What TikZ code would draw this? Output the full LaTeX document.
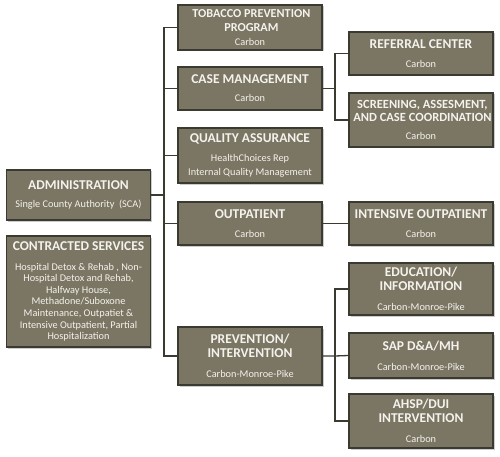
\documentclass[tikz,border=0pt]{standalone}
\usepackage{fontspec}
\setmainfont{Carlito}
\usetikzlibrary{shadows}
\definecolor{boxfill}{HTML}{7B7563}
\definecolor{boxline}{HTML}{3B3A31}
\definecolor{boxtext}{HTML}{F4F2EC}
\newcommand{\sm}{\fontsize{10.3}{11.6}\selectfont\mdseries}
\newcommand{\hd}[1][13.5]{\fontsize{#1}{11.6}\selectfont\bfseries}
\begin{document}
\begin{tikzpicture}[x=1pt,y=-1pt,
        unit/.style={draw=boxline,fill=boxfill,line width=1.3pt,text=boxtext,align=center,inner sep=0pt,
            minimum width=144pt,font=\sm,
            drop shadow={shadow xshift=1.5pt,shadow yshift=-1.5pt,opacity=0.4}},
        link/.style={draw=boxline,line width=1.3pt}]
    \useasboundingbox (0,0) rectangle (500,457);
    % left column
    \node[unit,minimum height=50pt] (adm) at (78.5,195) {\hd ADMINISTRATION\\[6pt]Single County Authority~ (SCA)};
    \node[unit,minimum height=111pt] (con) at (78.5,291.5) {\hd CONTRACTED SERVICES\\[8pt]Hospital Detox \& Rehab , Non-\\Hospital Detox and Rehab,\\Halfway House,\\Methadone/Suboxone\\Maintenance, Outpatiet \&\\Intensive Outpatient, Partial\\Hospitalization};
    % middle column
    \node[unit,minimum height=45pt] (tob) at (250,27.5) {\hd[12.2] TOBACCO PREVENTION\\[2.4pt]\hd[12.2] PROGRAM\\[2.4pt]Carbon};
    \node[unit,minimum height=43pt] (case) at (250,88.5) {\hd CASE MANAGEMENT\\[6.5pt]Carbon};
    \node[unit,minimum height=55pt] (qual) at (250,155.5) {\hd QUALITY ASSURANCE\\[6.5pt]HealthChoices Rep\\[2.4pt]Internal Quality Management};
    \node[unit,minimum height=43pt] (outp) at (250,223.5) {\hd OUTPATIENT\\[8pt]Carbon};
    \node[unit,minimum height=58pt] (prev) at (250,356) {\hd PREVENTION/\\[2.4pt]\hd INTERVENTION\\[8pt]Carbon-Monroe-Pike};
    % right column
    \node[unit,minimum height=43pt] (ref) at (421,53.5) {\hd REFERRAL CENTER\\[8pt]Carbon};
    \node[unit,minimum height=54pt] (scr) at (421,120) {\hd[12.5] SCREENING, ASSESMENT,\\[1pt]\hd[12.5] AND CASE COORDINATION\\[7pt]Carbon};
    \node[unit,minimum height=43pt] (inop) at (421,223.5) {\hd INTENSIVE OUTPATIENT\\[8pt]Carbon};
    \node[unit,minimum height=52pt] (edu) at (421,289) {\hd EDUCATION/\\[1.8pt]\hd INFORMATION\\[8.5pt]Carbon-Monroe-Pike};
    \node[unit,minimum height=45pt] (sap) at (421,355.5) {\hd SAP D\&A/MH\\[8pt]Carbon-Monroe-Pike};
    \node[unit,minimum height=54pt] (ahsp) at (421,421) {\hd AHSP/DUI\\[2.4pt]\hd INTERVENTION\\[8.5pt]Carbon};
    % connectors
    \coordinate (spine) at (164,0);
    \coordinate (cmj) at (335,0);
    \draw[link] (tob.west) -- (tob.west -| spine) -- (prev.west -| spine) -- (prev.west);
    \foreach \n in {case,qual,outp}
        \draw[link] (\n.west) -- (\n.west -| spine);
    \draw[link] (adm.east) -- (adm.east -| spine);
    \draw[link] (ref.west) -- (ref.west -| cmj) -- (scr.west -| cmj) -- (scr.west);
    \draw[link] (case.east) -- (case.east -| cmj);
    \draw[link] (outp.east) -- (inop.west);
    \draw[link] (edu.west) -- (edu.west -| cmj) -- (ahsp.west -| cmj) -- (ahsp.west);
    \draw[link] (prev.east) -- (prev.east -| cmj) -- (sap.west);
\end{tikzpicture}
\end{document}
